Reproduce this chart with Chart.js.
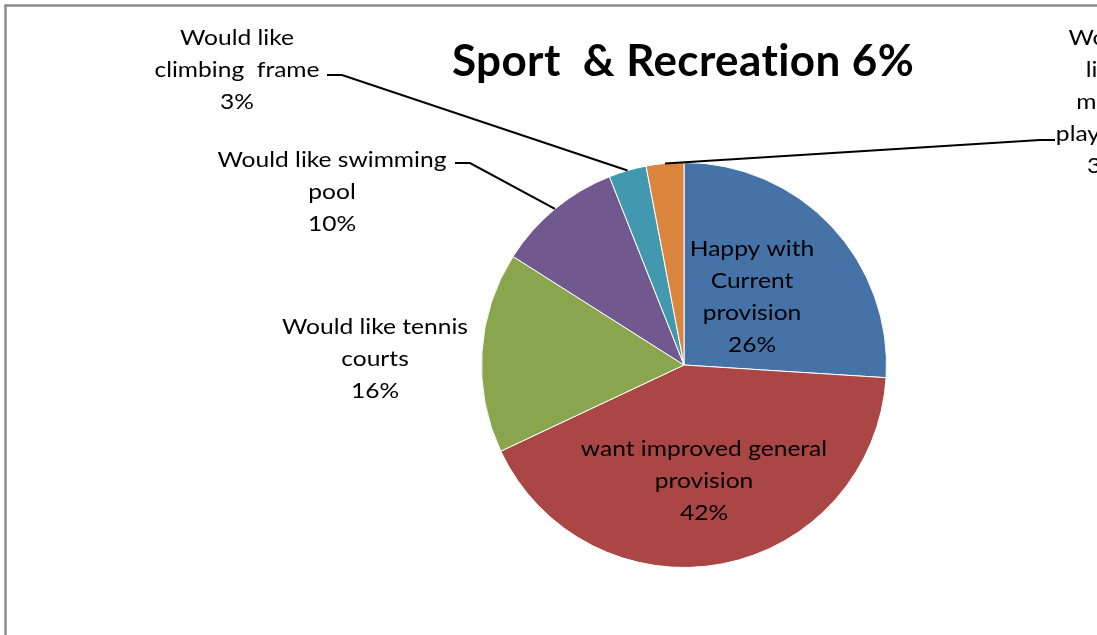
<!DOCTYPE html>
<html lang="en">
<head>
    <meta charset="UTF-8">
    <title>Sport & Recreation 6%</title>
    <script src="https://cdn.jsdelivr.net/npm/chart.js"></script>
    <style>
        body {
            margin: 0;
            background-color: #ffffff;
            overflow: hidden;
        }
        canvas {
            display: block;
        }
    </style>
</head>
<body>
    <canvas id="pieChart" width="1097" height="635"></canvas>

    <script>
        // data
        const chartTitle = 'Sport  & Recreation 6%';
        const categories = [
            ['Happy with', 'Current', 'provision'],
            ['want improved general', 'provision'],
            ['Would like tennis', 'courts'],
            ['Would like swimming', 'pool'],
            ['Would like', 'climbing  frame'],
            ['Would', 'like', 'more', 'play area']
        ];
        const shares = [26, 42, 16, 10, 3, 3];

        const colours = ['#4572A7', '#AA4643', '#89A54E', '#71588F', '#4198AF', '#DB843D'];

        // where each label sits (centre x, first line y) and its leader line
        const labelStyle = [
            { x: 752, y: 249 },
            { x: 704, y: 449 },
            { x: 375, y: 327 },
            { x: 332, y: 160, leader: [[455, 163], [470, 163]] },
            { x: 237, y: 38, leader: [[327, 75], [342, 75]] },
            { x: 1104, y: 38, leader: [[1055, 140], [1040, 140]] }
        ];
        const lineGap = 32;
        const labelFont = '21px Lato, "Open Sans", sans-serif';
        const titleFont = 'bold 44px Lato, "Open Sans", sans-serif';
        const labelStretch = 1.17;   // Calibri-like wide look
        const titleStretch = 1.0;

        function fillStretched(ctx, text, x, y, sx) {
            ctx.save();
            ctx.translate(x, y);
            ctx.scale(sx, 1);
            ctx.fillText(text, 0, 0);
            ctx.restore();
        }

        const decorations = {
            id: 'decorations',
            afterDraw(chart) {
                const ctx = chart.ctx;
                ctx.save();

                // outer frame
                ctx.strokeStyle = '#8c8c8c';
                ctx.lineWidth = 2.5;
                ctx.strokeRect(5.5, 5.5, 2000, 2000);

                // title (small letter spacing also stops the "ti" ligature)
                ctx.fillStyle = '#000';
                ctx.font = titleFont;
                ctx.textAlign = 'center';
                ctx.textBaseline = 'middle';
                ctx.letterSpacing = '0.4px';
                fillStretched(ctx, chartTitle, 683, 62, titleStretch);
                ctx.letterSpacing = '0px';

                const arcs = chart.getDatasetMeta(0).data;
                ctx.font = labelFont;
                categories.forEach((lines, i) => {
                    const s = labelStyle[i];
                    const all = lines.concat([shares[i] + '%']);
                    all.forEach((t, k) => fillStretched(ctx, t, s.x, s.y + k * lineGap, labelStretch));

                    if (s.leader) {
                        const a = arcs[i];
                        const mid = (a.startAngle + a.endAngle) / 2;
                        const px = a.x + Math.cos(mid) * a.outerRadius;
                        const py = a.y + Math.sin(mid) * a.outerRadius;
                        ctx.strokeStyle = '#000';
                        ctx.lineWidth = 2;
                        ctx.beginPath();
                        ctx.moveTo(s.leader[0][0], s.leader[0][1]);
                        ctx.lineTo(s.leader[1][0], s.leader[1][1]);
                        ctx.lineTo(px, py);
                        ctx.stroke();
                    }
                });
                ctx.restore();
            }
        };

        new Chart(document.getElementById('pieChart').getContext('2d'), {
            type: 'pie',
            data: {
                labels: categories.map(c => c.join(' ')),
                datasets: [{
                    data: shares,
                    backgroundColor: colours,
                    borderColor: '#ffffff',
                    borderWidth: 1
                }]
            },
            options: {
                responsive: false,
                animation: false,
                layout: {
                    padding: { left: 481, right: 210, top: 162, bottom: 67 }
                },
                plugins: {
                    legend: { display: false },
                    tooltip: { enabled: false }
                }
            },
            plugins: [decorations]
        });
    </script>
</body>
</html>
